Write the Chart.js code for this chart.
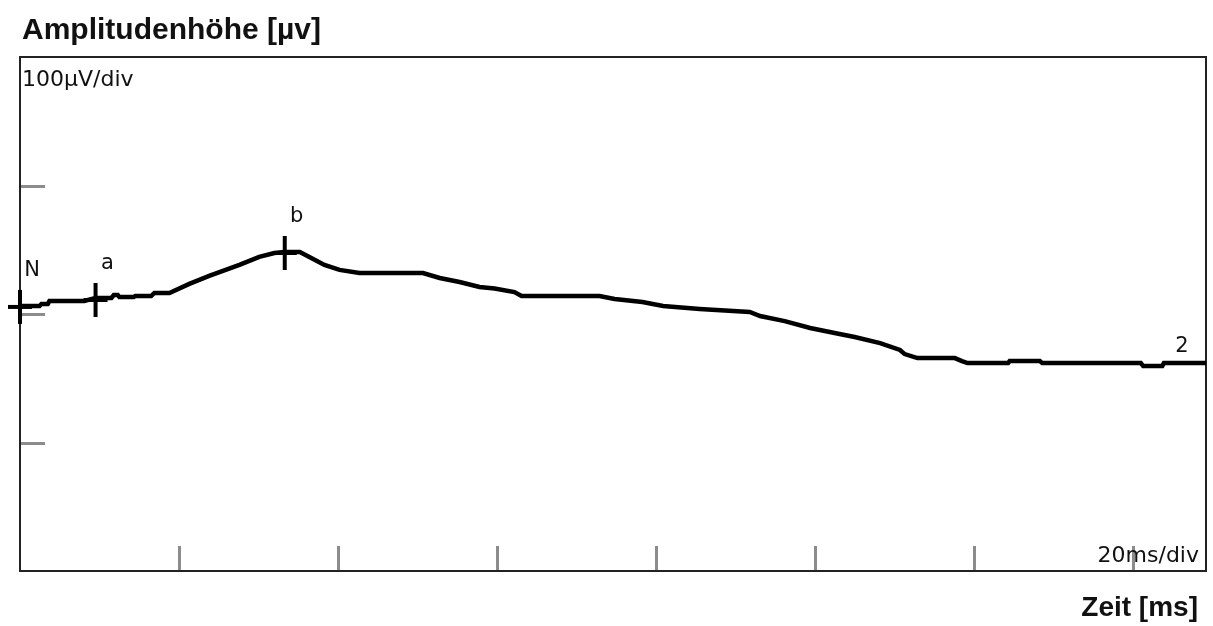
<!DOCTYPE html>
<html>
<head>
<meta charset="utf-8">
<script src="https://cdn.jsdelivr.net/npm/chart.js@4.4.1/dist/chart.umd.min.js"></script>
<style>
  body { margin: 0; background: #fff; overflow: hidden; }
  #wrap { position: relative; width: 1213px; height: 626px; }
  #myChart { display: block; }
  .axisTitle { position: absolute; font-family: "Liberation Sans", Arial, sans-serif; font-weight: bold; color: #111; white-space: nowrap; }
  #yTitle { left: 22px; top: 12px; font-size: 30px; }
  #xTitle { right: 15px; top: 591px; font-size: 28px; }
</style>
</head>
<body>
<div id="wrap">
  <canvas id="myChart" width="1213" height="626"></canvas>
  <div class="axisTitle" id="yTitle">Amplitudenhöhe [µv]</div>
  <div class="axisTitle" id="xTitle">Zeit [ms]</div>
</div>
<script>
// trace samples: time in ms, amplitude in µV
const timeMs = [0, 2.45, 2.7, 3.5, 3.7, 8.1, 9.5, 11.5, 11.8, 12.3, 12.5, 14.3, 14.5, 16.5, 16.9, 18.8,
  21.3, 23.8, 27.6, 30.1, 32.0, 33.3, 35.2, 36.4, 38.3, 40.2, 42.7, 50.7, 52.8, 55.3, 57.8, 59.7,
  62.2, 63.1, 72.9, 74.8, 78.3, 80.9, 85.5, 91.8, 93.1, 96.2, 99.4, 103.1, 105.0, 108.2, 110.7,
  111.3, 112.9, 117.6, 118.5, 119.2, 124.3, 124.5, 128.3, 128.6, 141.0, 141.3, 143.7, 143.9, 149.2];
const amplitudeUv = [6.2, 6.2, 7.8, 7.8, 10.1, 10.1, 12.5, 12.5, 14.8, 14.8, 13.2, 13.2, 14.0, 14.0, 16.4, 16.4,
  23.4, 29.6, 38.2, 44.4, 47.5, 48.3, 48.3, 44.4, 38.2, 34.3, 31.9, 31.9, 28.0, 24.9, 21.0, 19.9,
  17.1, 14.0, 14.0, 11.7, 9.3, 6.2, 3.9, 1.6, -1.6, -5.5, -10.9, -15.6, -17.9, -22.6, -28.0,
  -31.2, -34.3, -34.3, -36.6, -38.2, -38.2, -36.6, -36.6, -38.2, -38.2, -40.5, -40.5, -38.2, -38.2];

// cursor marks N, a, b
const markerNames = ['N', 'a', 'b'];
const markerMs = [0, 9.5, 33.3];
const markerUv = [5.5, 10.9, 47.5];

const xDivTicks = [20, 40, 60, 80, 100, 120, 140];
const yDivTicks = [-100, 0, 100];
const traceName = '2';

// cross cursor drawn once, used as point image
const cross = document.createElement('canvas');
cross.width = 26; cross.height = 36;
const cc = cross.getContext('2d');
cc.fillStyle = '#000';
cc.fillRect(11, 1, 4, 34);
cc.fillRect(1, 16, 24, 4);

const frame = {
  id: 'frame',
  beforeDatasetsDraw(chart) {
    const { ctx, chartArea: a, scales: { x, y } } = chart;
    ctx.save();
    ctx.strokeStyle = '#8c8c8c';
    ctx.lineWidth = 3;
    ctx.beginPath();
    yDivTicks.forEach(v => {
      const py = Math.round(y.getPixelForValue(v)) + 0.5;
      ctx.moveTo(a.left, py); ctx.lineTo(a.left + 25, py);
    });
    xDivTicks.forEach(v => {
      const px = Math.round(x.getPixelForValue(v)) + 0.5;
      ctx.moveTo(px, a.bottom); ctx.lineTo(px, a.bottom - 25);
    });
    ctx.stroke();
    ctx.strokeStyle = '#222';
    ctx.lineWidth = 2;
    ctx.strokeRect(a.left, a.top, a.right - a.left, a.bottom - a.top);
    ctx.fillStyle = '#111';
    ctx.font = '22px "DejaVu Sans"';
    ctx.textBaseline = 'alphabetic';
    ctx.textAlign = 'left';
    ctx.fillText('100µV/div', a.left + 2, a.top + 29);
    ctx.textAlign = 'right';
    ctx.fillText('20ms/div', a.right - 7, a.bottom - 9);
    ctx.restore();
  },
  afterDatasetsDraw(chart) {
    const { ctx, scales: { x, y } } = chart;
    ctx.save();
    ctx.fillStyle = '#111';
    ctx.font = '21px "DejaVu Sans"';
    ctx.textAlign = 'center';
    ctx.textBaseline = 'middle';
    markerNames.forEach((n, i) => {
      const px = x.getPixelForValue(markerMs[i]);
      const py = y.getPixelForValue(markerUv[i]);
      ctx.fillText(n, px + 12, py - 36);
    });
    const last = timeMs.length - 1;
    ctx.fillText(traceName, x.getPixelForValue(timeMs[last]) - 24, y.getPixelForValue(amplitudeUv[last]) - 17);
    ctx.restore();
  }
};

new Chart(document.getElementById('myChart'), {
  type: 'scatter',
  data: {
    datasets: [{
      data: timeMs.map((t, i) => ({ x: t, y: amplitudeUv[i] })),
      showLine: true,
      borderColor: '#000',
      borderWidth: 4.5,
      pointRadius: 0,
      clip: false
    }, {
      data: markerMs.map((t, i) => ({ x: t, y: markerUv[i] })),
      pointStyle: cross,
      pointRadius: 13,
      clip: false
    }]
  },
  options: {
    responsive: false,
    animation: false,
    layout: { autoPadding: false, padding: { left: 20, right: 7, top: 57, bottom: 55 } },
    scales: {
      x: { type: 'linear', min: 0, max: 149.2, display: false },
      y: { min: -200, max: 200, display: false }
    },
    plugins: { legend: { display: false }, tooltip: { enabled: false } }
  },
  plugins: [frame]
});
</script>
</body>
</html>
